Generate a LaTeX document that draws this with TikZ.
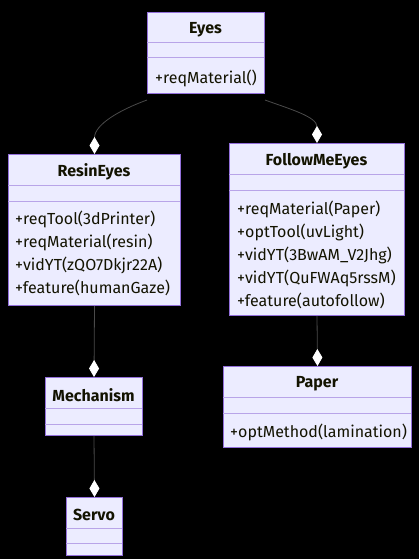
\documentclass[tikz,border=0pt]{standalone}
\usepackage{fontspec}
\setmainfont{Fira Sans}
\usetikzlibrary{arrows.meta}
\definecolor{boxfill}{HTML}{ECECFF}
\definecolor{boxline}{HTML}{9370DB}
\definecolor{divline}{HTML}{B8A4E8}
\definecolor{linkgray}{HTML}{4A4A4A}
\definecolor{textcol}{HTML}{131300}

\begin{document}
\begin{tikzpicture}
	[x=1pt, y=-1pt,
	cls/.style ={rectangle, draw=boxline, line width=1pt, fill=boxfill, anchor=north west, inner sep=0pt},
	title/.style ={font=\fontsize{16}{19}\selectfont\bfseries, text=textcol, inner sep=0pt},
	member/.style ={font=\fontsize{16}{19}\selectfont, text=textcol, anchor=west, inner sep=0pt},
	divider/.style ={draw=divline, line width=1pt},
	link/.style ={draw=linkgray, line width=0.8pt, -{Diamond[length=17pt, width=10pt, fill=white, color=white]}}]
	\fill[black] (0,0) rectangle (419,559);
	\useasboundingbox (0,0) rectangle (419,559);
	% class boxes
	\draw (147,12) node[cls, minimum width=117pt, minimum height=81pt] (eyes) {};
	\draw (8,154) node[cls, minimum width=172pt, minimum height=151pt] (resin) {};
	\draw (229,143) node[cls, minimum width=175pt, minimum height=172pt] (follow) {};
	\draw (45,377) node[cls, minimum width=97pt, minimum height=58pt] (mech) {};
	\draw (66,497) node[cls, minimum width=56pt, minimum height=58pt] (servo) {};
	\draw (223,366) node[cls, minimum width=188pt, minimum height=81pt] (paper) {};
	% dividers
	\draw[divider] (147,43) -- (264,43);
	\draw[divider] (147,58) -- (264,58);
	\draw[divider] (8,185) -- (180,185);
	\draw[divider] (8,201) -- (180,201);
	\draw[divider] (229,174) -- (404,174);
	\draw[divider] (229,190) -- (404,190);
	\draw[divider] (45,408) -- (142,408);
	\draw[divider] (45,424) -- (142,424);
	\draw[divider] (66,528) -- (122,528);
	\draw[divider] (66,543) -- (122,543);
	\draw[divider] (223,397) -- (411,397);
	\draw[divider] (223,413) -- (411,413);
	% titles
	\draw (205.5,30) node[title] (eyest) {Eyes};
	\draw (94,172) node[title] (resint) {ResinEyes};
	\draw (316.5,161) node[title] (followt) {FollowMeEyes};
	\draw (93.5,395) node[title] (mecht) {Mechanism};
	\draw (94,515) node[title] (servot) {Servo};
	\draw (317,384) node[title] (papert) {Paper};
	% members
	\draw (155,78) node[member] (eyes1) {+reqMaterial()};
	\draw (15,219) node[member] (resin1) {+reqTool(3dPrinter)};
	\draw (15,242) node[member] (resin2) {+reqMaterial(resin)};
	\draw (15,265) node[member] (resin3) {+vidYT(zQO7Dkjr22A)};
	\draw (15,288) node[member] (resin4) {+feature(humanGaze)};
	\draw (237,209) node[member] (follow1) {+reqMaterial(Paper)};
	\draw (237,232) node[member] (follow2) {+optTool(uvLight)};
	\draw (237,255) node[member] (follow3) {+vidYT(3BwAM\_V2Jhg)};
	\draw (237,278) node[member] (follow4) {+vidYT(QuFWAq5rssM)};
	\draw (237,301) node[member] (follow5) {+feature(autofollow)};
	\draw (230,432) node[member] (paper1) {+optMethod(lamination)};
	% links
	\draw[link] ([yshift=-6pt]eyes.south west) to[out=200, in=90] (resin.north);
	\draw[link] ([yshift=-6pt]eyes.south east) to[out=-20, in=90] (follow.north);
	\draw[link] (resin.south) -- (mech.north);
	\draw[link] (follow.south) -- (paper.north);
	\draw[link] (mech.south) -- (servo.north);
\end{tikzpicture}
\end{document}
